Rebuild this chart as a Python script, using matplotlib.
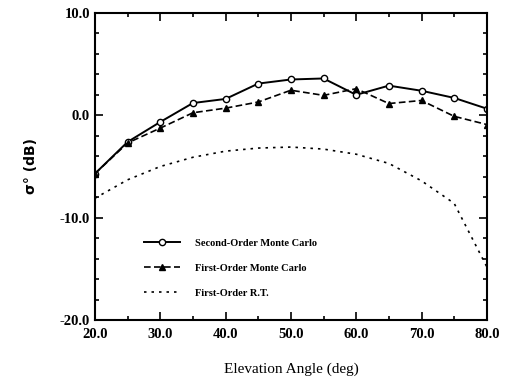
import numpy as np
import matplotlib
matplotlib.use("Agg")
import matplotlib.pyplot as plt
from matplotlib.ticker import MultipleLocator, FormatStrFormatter

angles = [20, 25, 30, 35, 40, 45, 50, 55, 60, 65, 70, 75, 80]
second_mc = [-5.7, -2.6, -0.65, 1.2, 1.6, 3.1, 3.5, 3.6, 2.0, 2.9, 2.4, 1.7, 0.65]
first_mc = [-5.7, -2.7, -1.25, 0.25, 0.7, 1.3, 2.45, 1.95, 2.6, 1.15, 1.45, -0.1, -0.9]
first_rt = [-8.1, -6.3, -5.0, -4.1, -3.5, -3.2, -3.1, -3.3, -3.8, -4.7, -6.4, -8.6, -14.8]

serif = "Liberation Serif"

fig = plt.figure(figsize=(5.05, 3.81), dpi=100)
ax = fig.add_axes([0.188, 0.160, 0.776, 0.806])

ax.plot(angles, second_mc, color="black", lw=1.4, marker="o", ms=4.5,
        mfc="white", mec="black", mew=1.0, label="Second-Order Monte Carlo")
ax.plot(angles, first_mc, color="black", lw=1.2, ls=(0, (4, 2)), marker="^",
        ms=5, mfc="black", mec="black", label="First-Order Monte Carlo")
ax.plot(angles, first_rt, color="black", lw=1.2, ls=(0, (1.5, 3)),
        label="First-Order R.T.")

ax.set_xlim(20, 80)
ax.set_ylim(-20, 10)
ax.xaxis.set_major_locator(MultipleLocator(10))
ax.xaxis.set_minor_locator(MultipleLocator(5))
ax.yaxis.set_major_locator(MultipleLocator(10))
ax.yaxis.set_minor_locator(MultipleLocator(2))
ax.xaxis.set_major_formatter(FormatStrFormatter("%.1f"))
ax.yaxis.set_major_formatter(FormatStrFormatter("%.1f"))
ax.tick_params(which="both", direction="in", top=True, right=True, width=1.2)
ax.tick_params(which="major", length=6)
ax.tick_params(which="minor", length=3)
ax.tick_params(axis="x", pad=6)
for lab in ax.get_xticklabels() + ax.get_yticklabels():
    lab.set_fontfamily(serif)
    lab.set_fontweight("bold")
    lab.set_fontsize(10.5)
for sp in ax.spines.values():
    sp.set_linewidth(1.5)

ax.set_xlabel("Elevation Angle (deg)", family=serif, fontsize=11, labelpad=15)
ax.set_ylabel("σ° (dB)", family="DejaVu Sans", fontweight="bold", fontsize=10, labelpad=16)

leg = ax.legend(loc="upper left", bbox_to_anchor=(0.10, 0.295), frameon=False,
                prop={"family": serif, "weight": "bold", "size": 7.5},
                handlelength=3.5, labelspacing=1.5, handletextpad=1.4)

fig.savefig("out.png", dpi=100)
